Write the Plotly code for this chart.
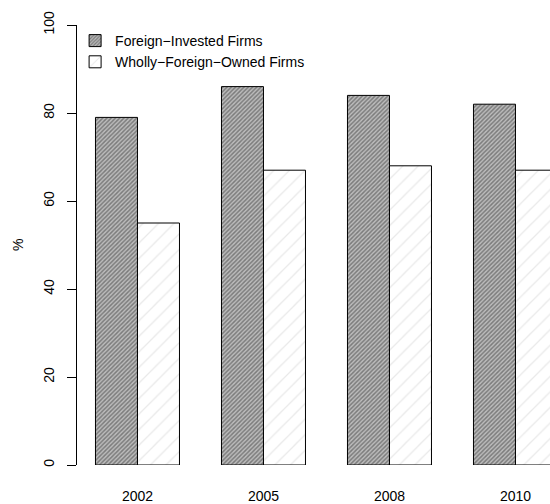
import plotly.graph_objects as go

years = ["2002", "2005", "2008", "2010"]
foreign_invested = [79, 86, 84, 82]
wholly_foreign_owned = [55, 67, 68, 67]
y_ticks = [0, 20, 40, 60, 80, 100]

FONT = "Liberation Sans, Arial, Helvetica, sans-serif"

fig = go.Figure()
fig.add_trace(go.Bar(
    x=years, y=foreign_invested, name="Foreign\u2212Invested Firms",
    marker=dict(color="#888888", line=dict(color="black", width=1),
                pattern=dict(shape="/", size=3, solidity=0.5,
                             fgcolor="#3a3a3a", bgcolor="#bdbdbd")),
))
fig.add_trace(go.Bar(
    x=years, y=wholly_foreign_owned, name="Wholly\u2212Foreign\u2212Owned Firms",
    marker=dict(color="white", line=dict(color="black", width=1),
                pattern=dict(shape="/", size=11, solidity=0.12,
                             fgcolor="#d4d4d4", bgcolor="white")),
))

fig.update_layout(
    width=550, height=504,
    margin=dict(l=77, r=0, t=25, b=37),
    paper_bgcolor="white", plot_bgcolor="white",
    barmode="group", bargap=1/3, bargroupgap=0,
    font=dict(family=FONT, size=14, color="black"),
    showlegend=True,
    legend=dict(x=-0.004, y=1.0, xanchor="left", yanchor="top",
                bgcolor="rgba(0,0,0,0)", font=dict(size=14),
                tracegroupgap=0, itemwidth=30),
    xaxis=dict(range=[-0.48, 3.274], showline=False, showgrid=False,
               zeroline=False, ticks="outside", ticklen=18,
               tickcolor="rgba(0,0,0,0)", tickfont=dict(size=14)),
    yaxis=dict(range=[0, 100], tickvals=y_ticks, showline=True,
               linecolor="black", linewidth=1, showgrid=False,
               zeroline=False, ticks="outside", ticklen=9,
               tickcolor="black", tickangle=-90, ticklabelstandoff=7,
               tickfont=dict(size=14)),
    annotations=[dict(text="%", xref="paper", yref="paper", x=-0.125,
                      y=0.5, textangle=-90, showarrow=False,
                      xanchor="center", yanchor="middle",
                      font=dict(size=14))],
)

fig.write_html("out.html")
